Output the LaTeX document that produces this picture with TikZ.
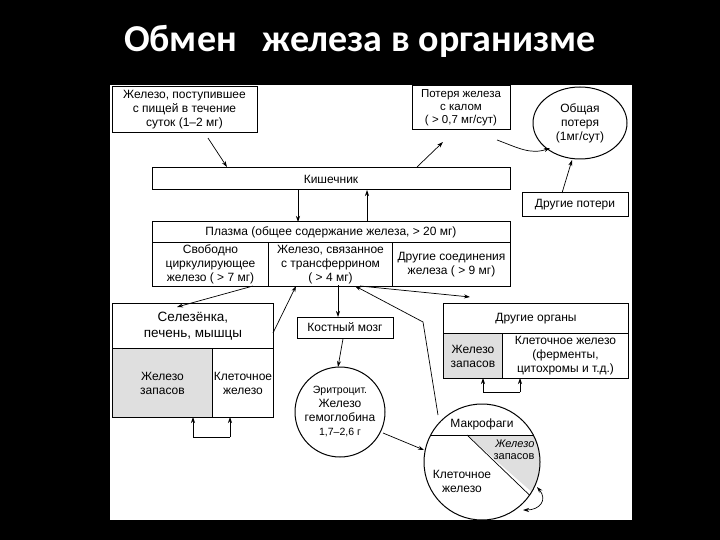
\documentclass[tikz,border=0pt]{standalone}
\usepackage{fontspec}
\setmainfont{Liberation Sans}
\newfontfamily\titlefont{Carlito}
\usetikzlibrary{arrows.meta,calc,shapes.geometric}
\begin{document}
\begin{tikzpicture}[x=1pt,y=-1pt,
  bx/.style={draw,line width=1pt,align=center,inner sep=0pt,font=\fontsize{12}{14}\selectfont},
  ar/.style={-{Stealth[length=6pt,width=4pt]},line width=0.7pt},
  txt/.style={align=center,font=\fontsize{12}{14}\selectfont}]
\fill[black] (0,0) rectangle (720,540);
\useasboundingbox (0,0) rectangle (720,540);
\fill[white] (110,85) rectangle (632,520);
\node[text=white,font=\titlefont\bfseries\fontsize{38}{44}\selectfont] (title) at (360,41) {Обмен\ \ \ железа в организме};
% top boxes
\node[bx,minimum width=145,minimum height=46] (food) at (184.5,110) {Железо, поступившее\\с пищей в течение\\суток (1--2 мг)};
\node[bx,minimum width=98,minimum height=44,font=\fontsize{11.5}{13}\selectfont] (loss) at (461,108) {Потеря железа\\с калом\\( > 0,7 мг/сут)};
\node[draw,ellipse,line width=1pt,minimum width=94,minimum height=72,inner sep=0pt,txt] (total) at (580,123) {Общая\\потеря\\(1мг/сут)};
\node[bx,minimum width=358,minimum height=22] (gut) at (331,179) {Кишечник};
\node[bx,minimum width=106,minimum height=24] (other) at (575,205) {Другие потери};
% plasma
\node[bx,minimum width=358,minimum height=20] (plasma) at (331,232) {Плазма (общее содержание железа, > 20 мг)};
\node[bx,minimum width=116,minimum height=44,anchor=north west] (free) at (152,242) {Свободно\\циркулирующее\\железо ( > 7 мг)};
\node[bx,minimum width=124,minimum height=44,anchor=north west] (trans) at (268,242) {Железо, связанное\\с трансферрином\\( > 4 мг)};
\node[bx,minimum width=118,minimum height=44,anchor=north west] (othc) at (392,242) {Другие соединения\\железа ( > 9 мг)};
% spleen
\node[bx,minimum width=161,minimum height=45,anchor=north west,font=\fontsize{13.5}{16}\selectfont] (spleen) at (112,303) {Селезёнка,\\печень, мышцы};
\node[bx,fill=gray!25,minimum width=100,minimum height=69,anchor=north west] (sstore) at (112,348) {Железо\\запасов};
\node[bx,minimum width=61,minimum height=69,anchor=north west] (scell) at (212,348) {Клеточное\\железо};
% bone marrow
\node[bx,minimum width=96,minimum height=21] (bone) at (345,327.5) {Костный мозг};
\node[draw,circle,line width=1pt,minimum size=90,inner sep=0pt,txt] (ery) at (340,412) {\fontsize{10.5}{13}\selectfont Эритроцит.\\Железо\\гемоглобина\\\fontsize{10.5}{13}\selectfont 1,7--2,6 г};
% other organs
\node[bx,minimum width=185,minimum height=30,anchor=north west] (organs) at (443,303) {Другие органы};
\node[bx,fill=gray!25,minimum width=59,minimum height=45,anchor=north west] (ostore) at (443,333) {Железо\\запасов};
\node[bx,minimum width=126,minimum height=45,anchor=north west] (ocell) at (502,333) {Клеточное железо\\(ферменты,\\цитохромы и т.д.)};
% macrophage
\coordinate (mc) at (482,462);
\begin{scope}
\clip (mc) circle (58);
\fill[gray!25] (467,435) -- (545,435) -- (545,510) -- (533,493) -- cycle;
\draw[line width=0.7pt] (400,435) -- (560,435);
\draw[line width=0.7pt] (467,435) -- (545,510);
\end{scope}
\draw[line width=1pt] (mc) circle (58);
\node[txt] (macl) at (482,424) {Макрофаги};
\node[txt,font=\fontsize{11}{12}\selectfont,align=right] (mstore) at (514,450) {\textit{Железо}\\запасов};
\node[txt] (mcell) at (462,481) {Клеточное\\железо};
\coordinate (mtop) at (438,415);
% arrows
\draw[ar] (208,138) -- (227,167);
\draw[ar] (298,190) -- (298,222);
\draw[ar] (367,222) -- (367,190);
\draw[ar] (417,167) -- (443,142);
\draw[ar] (497,140) to[out=-20,in=200] (550,148);
\draw[ar] (562,193) -- (572,160);
\draw[ar] (253,286) -- (177,307);
\draw[ar] (273,333) -- (296,286);
\draw[ar] (338,285) -- (338,317);
\draw[ar] (bone) -- (338,367);
\draw[ar] (383,433) -- (424,450);
\draw[ar] (mtop) -- (423,322) -- (355,286);
\draw[ar] (360,286) -- (470,297);
\draw[ar] (193,437) -- (193,417);
\draw[line width=0.7pt] (193,437) -- (230,437);
\draw[ar] (230,437) -- (230,417);
\draw[ar] (483,392) -- (483,378);
\draw[line width=0.7pt] (483,392) -- (520,392);
\draw[ar] (520,392) -- (520,378);
\draw[{Stealth[length=6pt,width=4pt]}-{Stealth[length=6pt,width=4pt]},line width=0.7pt] (523,510) to[out=0,in=-50,looseness=1.6] (537,487);
\end{tikzpicture}
\end{document}
